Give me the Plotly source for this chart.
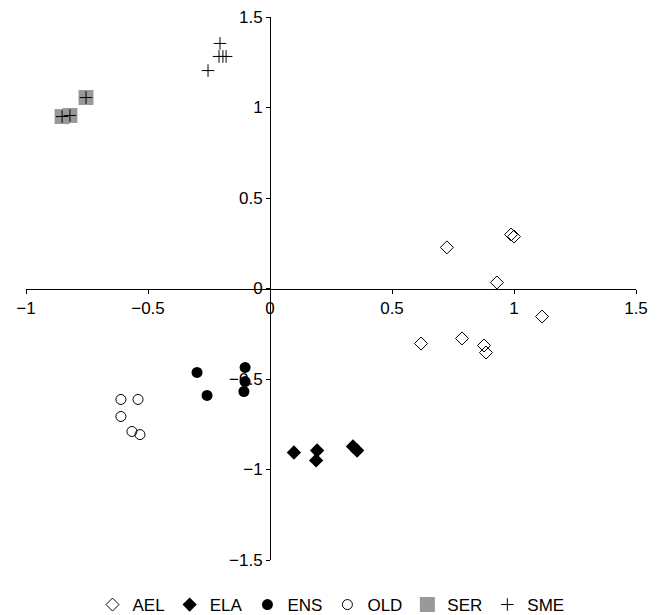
import plotly.graph_objects as go

# --- data ---
ael_x = [0.988, 1.000, 0.725, 0.930, 1.115, 0.619, 0.787, 0.877, 0.885]
ael_y = [0.298, 0.287, 0.227, 0.033, -0.155, -0.304, -0.276, -0.315, -0.354]

ela_x = [0.098, 0.193, 0.189, 0.340, 0.357]
ela_y = [-0.906, -0.895, -0.950, -0.873, -0.895]

ens_x = [-0.299, -0.258, -0.102, -0.102, -0.107]
ens_y = [-0.464, -0.591, -0.436, -0.514, -0.569]

old_x = [-0.611, -0.541, -0.611, -0.566, -0.533]
old_y = [-0.613, -0.613, -0.707, -0.790, -0.807]

ser_x = [-0.754, -0.820, -0.852]
ser_y = [1.055, 0.956, 0.950]

sme_x = [-0.205, -0.209, -0.193, -0.180, -0.254]
sme_y = [1.354, 1.282, 1.282, 1.282, 1.204]

x_ticks = [-1, -0.5, 0, 0.5, 1, 1.5]
x_labels = ["\u22121", "\u22120.5", "0", "0.5", "1", "1.5"]
y_ticks = [-1.5, -1, -0.5, 0, 0.5, 1, 1.5]
y_labels = ["\u22121.5", "\u22121", "\u22120.5", "0", "0.5", "1", "1.5"]

FONT = "Liberation Sans, Arial, sans-serif"

fig = go.Figure()

fig.add_trace(go.Scatter(x=ael_x, y=ael_y, mode="markers", name="AEL",
                         marker=dict(symbol="diamond-open", size=10, color="black",
                                     line=dict(width=1, color="black"))))
fig.add_trace(go.Scatter(x=ela_x, y=ela_y, mode="markers", name="ELA",
                         marker=dict(symbol="diamond", size=11, color="black")))
fig.add_trace(go.Scatter(x=ens_x, y=ens_y, mode="markers", name="ENS",
                         marker=dict(symbol="circle", size=11, color="black")))
fig.add_trace(go.Scatter(x=old_x, y=old_y, mode="markers", name="OLD",
                         marker=dict(symbol="circle-open", size=10, color="black",
                                     line=dict(width=1, color="black"))))
fig.add_trace(go.Scatter(x=ser_x, y=ser_y, mode="markers", name="SER",
                         marker=dict(symbol="square", size=15, color="#999999",
                                     line=dict(width=0))))
fig.add_trace(go.Scatter(x=ser_x, y=ser_y, mode="markers", name="SER",
                         showlegend=False, hoverinfo="skip",
                         marker=dict(symbol="cross-thin", size=9, color="black",
                                     line=dict(width=1, color="black"))))
fig.add_trace(go.Scatter(x=sme_x, y=sme_y, mode="markers", name="SME",
                         marker=dict(symbol="cross-thin", size=9, color="black",
                                     line=dict(width=1, color="black"))))

fig.update_layout(
    width=671, height=615,
    margin=dict(l=18, r=43, t=9, b=63, autoexpand=False),
    paper_bgcolor="white", plot_bgcolor="white",
    font=dict(family=FONT, size=17, color="black"),
    showlegend=True,
    legend=dict(orientation="h", x=0.5, xanchor="center",
                yref="container", y=0.0, yanchor="bottom",
                font=dict(family=FONT, size=17, color="black"),
                itemwidth=30, tracegroupgap=0, bgcolor="rgba(0,0,0,0)"),
    xaxis=dict(range=[-1, 1.5], tickvals=x_ticks, ticktext=x_labels,
               showgrid=False, zeroline=False, showline=True, linecolor="black",
               linewidth=1, ticks="outside", ticklen=4, tickcolor="black",
               anchor="free", position=0.5, fixedrange=True, automargin=False,
               ticklabeloverflow="allow"),
    yaxis=dict(range=[-1.5, 1.5], tickvals=y_ticks, ticktext=y_labels,
               showgrid=False, zeroline=False, showline=True, linecolor="black",
               linewidth=1, ticks="outside", ticklen=4, tickcolor="black",
               anchor="free", position=0.4, fixedrange=True, automargin=False,
               ticklabeloverflow="allow"),
)

fig.write_html("out.html")
